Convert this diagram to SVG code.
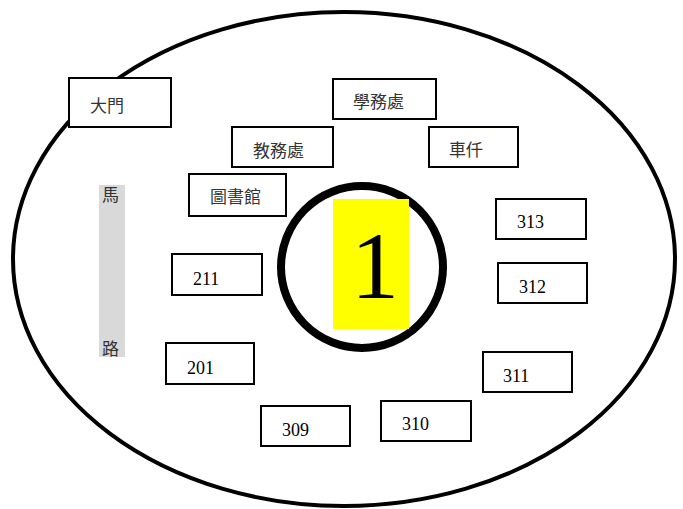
<svg xmlns="http://www.w3.org/2000/svg" width="683" height="509" viewBox="0 0 683 509">
<style>
.box{fill:#fff;stroke:#000;stroke-width:2}
.cjk{font-family:"Noto Sans CJK TC","Noto Sans CJK SC",sans-serif;font-size:17px;fill:#333}
.num{font-family:"Liberation Serif",serif;font-size:18px;fill:#000}
</style>
<rect width="683" height="509" fill="#fff"/>
<ellipse cx="344" cy="259" rx="331" ry="247" fill="none" stroke="#000" stroke-width="4"/>
<g id="road">
<rect x="99" y="185" width="26" height="172" fill="#d9d9d9"/>
<text class="cjk" x="102" y="201">馬</text>
<text class="cjk" x="102" y="355">路</text>
</g>
<g id="center">
<circle cx="362" cy="267" r="81" fill="none" stroke="#000" stroke-width="8"/>
<rect x="333" y="199" width="76" height="130" fill="#ffff00"/>
<text x="375" y="298" text-anchor="middle" font-family="Liberation Serif,serif" font-size="96" fill="#000">1</text>
</g>
<g id="gate"><rect class="box" x="69" y="78" width="102" height="49"/><text class="cjk" x="90" y="112">大門</text></g>
<g id="xuewu"><rect class="box" x="333" y="79" width="103" height="40"/><text class="cjk" x="353" y="108">學務處</text></g>
<g id="jiaowu"><rect class="box" x="232" y="127" width="101" height="40"/><text class="cjk" x="253" y="157">教務處</text></g>
<g id="che"><rect class="box" x="429" y="127" width="89" height="40"/><text class="cjk" x="449" y="156">車仟</text></g>
<g id="library"><rect class="box" x="189" y="174" width="97" height="42"/><text class="cjk" x="210" y="203">圖書館</text></g>
<g id="r211"><rect class="box" x="172" y="254" width="90" height="41"/><text class="num" x="193" y="285">211</text></g>
<g id="r201"><rect class="box" x="166" y="343" width="88" height="41"/><text class="num" x="187" y="374">201</text></g>
<g id="r313"><rect class="box" x="496" y="199" width="90" height="40"/><text class="num" x="517" y="228">313</text></g>
<g id="r312"><rect class="box" x="498" y="263" width="89" height="40"/><text class="num" x="519" y="293">312</text></g>
<g id="r311"><rect class="box" x="483" y="352" width="89" height="40"/><text class="num" x="503" y="382">311</text></g>
<g id="r309"><rect class="box" x="261" y="406" width="89" height="40"/><text class="num" x="282" y="436">309</text></g>
<g id="r310"><rect class="box" x="381" y="401" width="90" height="40"/><text class="num" x="402" y="430">310</text></g>
<g id="connectors"></g>
</svg>
